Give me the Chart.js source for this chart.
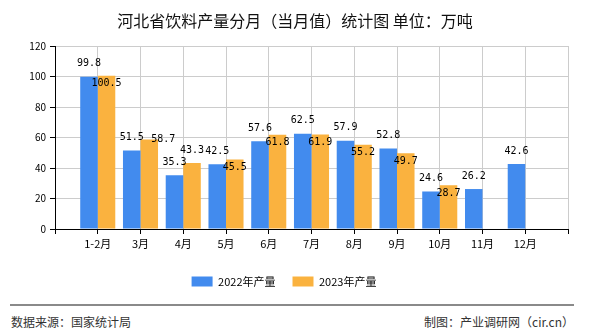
<!DOCTYPE html>
<html>
<head>
<meta charset="utf-8">
<script src="https://cdn.jsdelivr.net/npm/chart.js@4.4.0/dist/chart.umd.min.js"></script>
<style>
html, body { margin: 0; padding: 0; background: #fff; }
#wrap { position: relative; width: 590px; height: 330px; overflow: hidden; font-family: "Noto Sans CJK SC", sans-serif; }
#title { position: absolute; left: 0; top: 8px; width: 590px; text-align: center; font-size: 16px; color: #111; }
#chartBox { position: absolute; left: 0; top: 0; width: 590px; height: 297px; }
#rule { position: absolute; left: 10px; top: 304px; width: 564px; height: 0; border-top: 2px solid #8a8a8a; }
#src { position: absolute; left: 11px; top: 313px; font-size: 12px; color: #333; }
#maker { position: absolute; right: 16px; top: 313px; font-size: 12px; color: #333; }
</style>
</head>
<body>
<div id="wrap">
  <div id="chartBox"><canvas id="prodChart" width="590" height="297"></canvas></div>
  <div id="title">河北省饮料产量分月（当月值）统计图 单位：万吨</div>
  <div id="rule"></div>
  <div id="src">数据来源：国家统计局</div>
  <div id="maker">制图：产业调研网（cir.cn）</div>
</div>
<script>
// données
const months = ['1-2月', '3月', '4月', '5月', '6月', '7月', '8月', '9月', '10月', '11月', '12月'];
const prod2022 = [99.8, 51.5, 35.3, 42.5, 57.6, 62.5, 57.9, 52.8, 24.6, 26.2, 42.6];
const prod2023 = [100.5, 58.7, 43.3, 45.5, 61.8, 61.9, 55.2, 49.7, 28.7, null, null];
const seriesNames = ['2022年产量', '2023年产量'];
const yMin = 0, yMax = 120, yStep = 20;

const BLUE = '#428BEE';
const ORANGE = '#FAB23F';

// l'axe a une case vide à chaque bout
const padLabels = [''].concat(months, ['']);
const pad = arr => [null].concat(arr, [null]);

// étiquettes des valeurs
const valueLabels = {
    id: 'valueLabels',
    afterDatasetsDraw(chart) {
        const ctx = chart.ctx;
        // 58.7 et 43.3 ne sont pas dans la barre
        const orangeShift = { 2: [14, 0], 3: [0, -13] };
        ctx.save();
        ctx.font = '10px "DejaVu Sans Mono", monospace';
        ctx.fillStyle = '#000';
        ctx.textAlign = 'center';
        ctx.textBaseline = 'middle';
        chart.data.datasets.forEach((ds, di) => {
            const meta = chart.getDatasetMeta(di);
            meta.data.forEach((bar, i) => {
                const v = ds.data[i];
                if (v == null) return;
                let dx = 0, dy = di === 0 ? -13 : 8;
                if (di === 1 && orangeShift[i]) [dx, dy] = orangeShift[i];
                ctx.fillText(v.toFixed(1), bar.x + dx, bar.y + dy);
            });
        });
        ctx.restore();
    }
};

const canvas = document.getElementById('prodChart');
new Chart(canvas.getContext('2d'), {
    type: 'bar',
    data: {
        labels: padLabels,
        datasets: [
            { label: seriesNames[0], data: pad(prod2022), backgroundColor: BLUE },
            { label: seriesNames[1], data: pad(prod2023), backgroundColor: ORANGE }
        ]
    },
    options: {
        responsive: false,
        animation: false,
        events: [],
        categoryPercentage: 0.82,
        barPercentage: 1.0,
        layout: { padding: { top: 46, left: 0, right: 22, bottom: 0 } },
        scales: {
            x: {
                offset: false,
                grid: { offset: false, color: '#cccccc', tickColor: '#000', tickLength: 5 },
                border: { color: '#000' },
                ticks: { autoSkip: false, maxRotation: 0, color: '#000', padding: 3,
                         font: { family: '"Noto Sans CJK SC"', size: 11 } },
                afterFit: s => { s.height = 30; }
            },
            y: {
                min: yMin,
                max: yMax,
                grid: { color: '#cccccc', tickColor: '#000', tickLength: 5 },
                border: { color: '#000' },
                ticks: { stepSize: yStep, color: '#000', padding: 4,
                         font: { family: '"Noto Sans CJK SC"', size: 10 } },
                afterFit: s => { s.width = 55; }
            }
        },
        plugins: {
            title: { display: false },
            tooltip: { enabled: false },
            legend: {
                position: 'bottom',
                labels: {
                    boxWidth: 21,
                    boxHeight: 10,
                    padding: 17,
                    color: '#000',
                    font: { family: '"Noto Sans CJK SC"', size: 11 }
                }
            }
        }
    },
    plugins: [valueLabels]
});
</script>
</body>
</html>
